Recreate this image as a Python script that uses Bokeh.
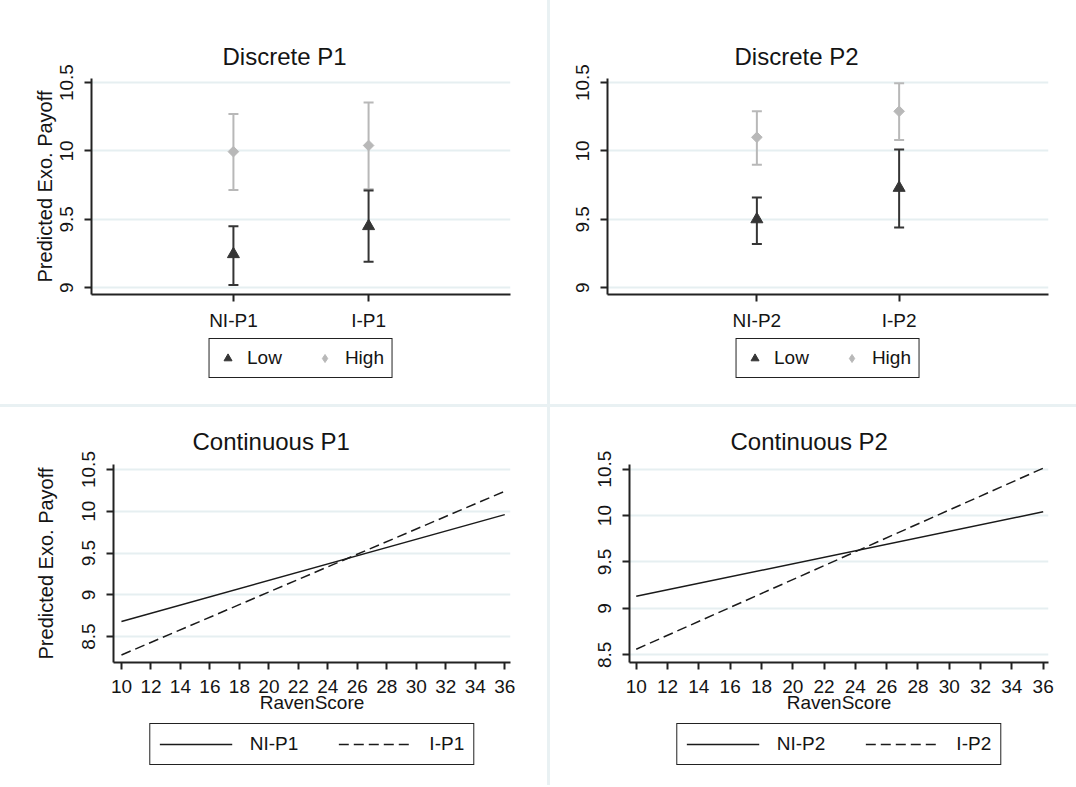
import numpy as np
from bokeh.plotting import figure
from bokeh.models import (Range1d, FixedTicker, NumeralTickFormatter, Legend, LegendItem,
                          ColumnDataSource, Whisker, TeeHead)
from bokeh.layouts import row, column
from bokeh.embed import file_html
from bokeh.resources import INLINE

FONT = "Liberation Sans"

# ---------------- data ----------------
disc_p1_cats = ["NI-P1", "I-P1"]
disc_p1_low_mean = [9.245, 9.45]
disc_p1_low_lo = [9.02, 9.19]
disc_p1_low_hi = [9.45, 9.71]
disc_p1_high_mean = [9.995, 10.04]
disc_p1_high_lo = [9.715, 9.72]
disc_p1_high_hi = [10.27, 10.355]

disc_p2_cats = ["NI-P2", "I-P2"]
disc_p2_low_mean = [9.50, 9.73]
disc_p2_low_lo = [9.32, 9.44]
disc_p2_low_hi = [9.66, 10.01]
disc_p2_high_mean = [10.10, 10.29]
disc_p2_high_lo = [9.90, 10.08]
disc_p2_high_hi = [10.29, 10.495]

disc_yticks = [9, 9.5, 10, 10.5]

raven_x = [10, 36]
cont_p1_ni = [8.68, 9.96]
cont_p1_i = [8.28, 10.24]
cont_p2_ni = [9.13, 10.04]
cont_p2_i = [8.56, 10.51]
cont_yticks = [8.5, 9, 9.5, 10, 10.5]
raven_ticks = [10, 12, 14, 16, 18, 20, 22, 24, 26, 28, 30, 32, 34, 36]

LOW_C = "#353535"
HIGH_C = "#b8b8b8"
AX_C = "#222222"
GRID_C = "#e6eff1"
TXT_C = "#141414"
LINE_C = "#1a1a1a"
PANEL_SEP = "#e9f1f3"


def base_fig(w, h, xr, yr, mbl, mbr, mbt, mbb, title, toff, tstand):
    p = figure(width=w, height=h, x_range=Range1d(*xr), y_range=Range1d(*yr),
               output_backend="svg", toolbar_location=None,
               min_border_left=mbl, min_border_right=mbr,
               min_border_top=mbt, min_border_bottom=mbb,
               outline_line_color=None, background_fill_color="white",
               border_fill_color="white")
    p.title.text = title
    p.title.align = "left"
    p.title.offset = toff
    p.title.text_font = FONT
    p.title.text_font_size = "24px"
    p.title.text_font_style = "normal"
    p.title.text_color = TXT_C
    p.title.standoff = tstand
    for ax in (p.xaxis[0], p.yaxis[0]):
        ax.axis_line_color = AX_C
        ax.axis_line_width = 2
        ax.major_tick_line_color = AX_C
        ax.major_tick_line_width = 2
        ax.major_tick_out = 7
        ax.major_tick_in = 0
        ax.minor_tick_line_color = None
        ax.major_label_text_font = FONT
        ax.major_label_text_font_size = "19px"
        ax.major_label_text_color = TXT_C
        ax.axis_label_text_font = FONT
        ax.axis_label_text_font_style = "normal"
        ax.axis_label_text_color = TXT_C
    p.yaxis.major_label_orientation = "vertical"
    p.yaxis.major_label_standoff = 11
    p.yaxis.formatter = NumeralTickFormatter(format="0.[0]")
    p.xgrid.visible = False
    p.ygrid.grid_line_color = GRID_C
    p.ygrid.grid_line_width = 2
    return p


def legend_fig(w, h, mbl, mbr, items_fn, margin, **legkw):
    # legend-only figure; its view range lies away from the data, so only the legend shows
    lf = figure(width=w, height=h, x_range=Range1d(-100, -99), y_range=Range1d(-100, -99),
                output_backend="svg", toolbar_location=None,
                x_axis_location=None, y_axis_location=None,
                min_border_left=mbl, min_border_right=mbr,
                min_border_top=0, min_border_bottom=0,
                outline_line_color=None, background_fill_color="white",
                border_fill_color="white")
    lf.xgrid.visible = False
    lf.ygrid.visible = False
    items = items_fn(lf)
    leg = Legend(items=items, orientation="horizontal", location="bottom_center",
                 margin=margin,
                 border_line_color=AX_C, border_line_width=1.5, border_line_alpha=1.0,
                 background_fill_color="white", background_fill_alpha=1.0,
                 label_text_font=FONT, label_text_font_size="19px",
                 label_text_color=TXT_C, **legkw)
    lf.add_layout(leg, "center")
    return lf


def discrete(w, mbl, mbr, cats, lm, llo, lhi, hm, hlo, hhi, title, toff, ylabel):
    p = base_fig(w, 333, (-0.05, 3.05), (8.95, 10.53), mbl, mbr, 78, 38, title, toff, 17)
    xs = list(range(1, len(cats) + 1))
    p.xaxis.ticker = FixedTicker(ticks=xs)
    p.xaxis.major_label_overrides = {x: c for x, c in zip(xs, cats)}
    p.xaxis.major_label_standoff = 8
    p.yaxis.ticker = FixedTicker(ticks=disc_yticks)
    if ylabel:
        p.yaxis.axis_label = ylabel
        p.yaxis.axis_label_text_font_size = "20px"
        p.yaxis.axis_label_standoff = 2
    for m, lo, hi, col in ((hm, hlo, hhi, HIGH_C), (lm, llo, lhi, LOW_C)):
        src = ColumnDataSource(dict(x=xs, m=m, lo=lo, hi=hi))
        w_ = Whisker(source=src, base="x", lower="lo", upper="hi",
                     line_color=col, line_width=2,
                     lower_head=TeeHead(size=10, line_color=col, line_width=2),
                     upper_head=TeeHead(size=10, line_color=col, line_width=2))
        p.add_layout(w_)
    p.scatter(xs, hm, marker="square", angle=np.pi / 4, size=7.5,
              fill_color=HIGH_C, line_color=HIGH_C)
    p.scatter(xs, lm, marker="triangle", size=12, fill_color=LOW_C, line_color=LOW_C)

    def items(lf):
        rl = lf.scatter(xs, lm, marker="triangle", size=12, fill_color=LOW_C, line_color=LOW_C)
        rh = lf.scatter(xs, hm, marker="diamond", size=11,
                        fill_color=HIGH_C, line_color=HIGH_C)
        return [LegendItem(label="Low", renderers=[rl]),
                LegendItem(label="High", renderers=[rh])]

    lf = legend_fig(w, 71, mbl, mbr, items, 26, padding=8, spacing=33, glyph_width=20,
                    glyph_height=20, label_standoff=10)
    return column(p, lf, spacing=0, styles={"background-color": "white"})


def continuous(w, mbl, mbr, xr, yr, ni, ii, names, title, toff, ylabel, ylstand):
    p = base_fig(w, 315, xr, yr, mbl, mbr, 57, 60, title, toff, 20)
    p.xaxis.ticker = FixedTicker(ticks=raven_ticks)
    p.xaxis.major_label_standoff = 10
    p.xaxis.axis_label = "RavenScore"
    p.xaxis.axis_label_text_font_size = "19px"
    p.xaxis.axis_label_standoff = -4
    p.yaxis.ticker = FixedTicker(ticks=cont_yticks)
    if ylabel:
        p.yaxis.axis_label = ylabel
        p.yaxis.axis_label_text_font_size = "20px"
        p.yaxis.axis_label_standoff = ylstand
    p.line(raven_x, ni, line_color=LINE_C, line_width=1.5)
    p.line(raven_x, ii, line_color=LINE_C, line_width=1.5, line_dash="10 5")

    def items(lf):
        r1 = lf.line(raven_x, ni, line_color=LINE_C, line_width=1.5)
        r2 = lf.line(raven_x, ii, line_color=LINE_C, line_width=1.5, line_dash="10 5")
        return [LegendItem(label=names[0], renderers=[r1]),
                LegendItem(label=names[1], renderers=[r2])]

    lf = legend_fig(w, 63, mbl, mbr, items, 20, padding=9, spacing=40, glyph_width=73,
                    glyph_height=20, label_standoff=18)
    return column(p, lf, spacing=0, styles={"background-color": "white"})


c1 = discrete(547, 91, 37, disc_p1_cats, disc_p1_low_mean, disc_p1_low_lo, disc_p1_low_hi,
              disc_p1_high_mean, disc_p1_high_lo, disc_p1_high_hi, "Discrete P1", 131,
              "Predicted Exo. Payoff")
c2 = discrete(526, 57, 28, disc_p2_cats, disc_p2_low_mean, disc_p2_low_lo, disc_p2_low_hi,
              disc_p2_high_mean, disc_p2_high_lo, disc_p2_high_hi, "Discrete P2", 127, None)
c3 = continuous(547, 113, 37, (9.46, 36.39), (8.19, 10.56), cont_p1_ni, cont_p1_i,
                ["NI-P1", "I-P1"], "Continuous P1", 79, "Predicted Exo. Payoff", 23)
c4 = continuous(526, 79, 28, (9.57, 36.34), (8.417, 10.55), cont_p2_ni, cont_p2_i,
                ["NI-P2", "I-P2"], "Continuous P2", 101, None, 0)

layout = column(row(c1, c2, spacing=3), row(c3, c4, spacing=3), spacing=3,
                styles={"background-color": PANEL_SEP})

open("out.html", "w").write(file_html(layout, INLINE))
